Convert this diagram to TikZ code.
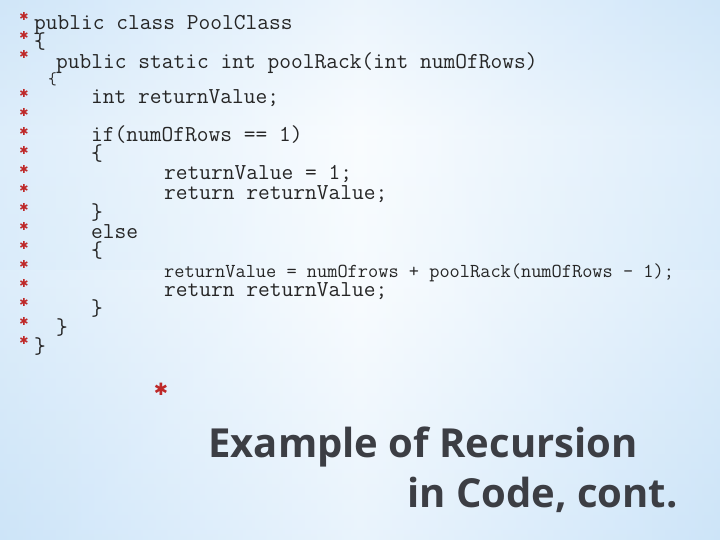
\documentclass[tikz,border=0pt]{standalone}
\usepackage{fontspec}
\newfontfamily\titlefont{Open Sans}
\newfontfamily\symfont{DejaVu Sans}
\definecolor{bgblue}{RGB}{200,226,248}
\definecolor{bglight}{RGB}{236,246,253}
\definecolor{starred}{RGB}{190,40,40}
\definecolor{titlegray}{RGB}{60,62,68}
\begin{document}
\begin{tikzpicture}[x=1pt,y=-1pt,
  code/.style={anchor=base west,inner sep=0pt,font=\ttfamily\fontsize{22.8}{22.8}\selectfont,text=black!85},
  star/.style={anchor=center,inner sep=0pt,text=starred,font=\symfont\fontsize{11}{11}\selectfont}]
\useasboundingbox (0,0) rectangle (720,540);
\shade[top color=bgblue!70!white,bottom color=bglight,middle color=bglight!60!white] (0,0) rectangle (720,270);
\shade[top color=bglight!60!white,bottom color=bgblue!80!white] (0,270) rectangle (720,540);
\shade[left color=bgblue,right color=bgblue,opacity=0.5,middle color=white] (0,0) rectangle (720,540);
% stars
\foreach \y [count=\i] in {16,35,54,93,112,131,150,169,188,207,226,245,264,283,302,321,340}
  \node[star] (s\i) at (24,\y) {✱};
\node[code] (l1) at (34,30) {public class PoolClass};
\node[code] (l2) at (34,49) {\{};
\node[code] (l3) at (56,69) {public static int poolRack(int numOfRows)};
\node[code,font=\ttfamily\fontsize{17}{17}\selectfont] (l4) at (48,85) {\{};
\node[code] (l5) at (91,104) {int returnValue;};
\node[code] (l6) at (91,142) {if(numOfRows == 1)};
\node[code] (l7) at (91,161) {\{};
\node[code] (l8) at (164,180) {returnValue = 1;};
\node[code] (l9) at (164,200) {return returnValue;};
\node[code] (l10) at (91,219) {\}};
\node[code] (l11) at (91,238) {else};
\node[code] (l12) at (91,257) {\{};
\node[code,font=\ttfamily\fontsize{19.8}{19.8}\selectfont] (l13) at (164,277) {returnValue = numOfrows + poolRack(numOfRows - 1);};
\node[code] (l14) at (164,296) {return returnValue;};
\node[code] (l15) at (91,315) {\}};
\node[code] (l16) at (56,334) {\}};
\node[code] (l17) at (34,353) {\}};
\node[star,font=\symfont\fontsize{17}{17}\selectfont] (ts) at (161,389) {✱};
\node[anchor=base east,inner sep=0pt,text=titlegray,
  font=\titlefont\bfseries\fontsize{40}{40}\selectfont] (title) at (638,457) {Example of Recursion};
\node[anchor=base east,inner sep=0pt,text=titlegray,
  font=\titlefont\bfseries\fontsize{40}{40}\selectfont] (title2) at (678,507) {in Code, cont.};
\end{tikzpicture}
\end{document}
